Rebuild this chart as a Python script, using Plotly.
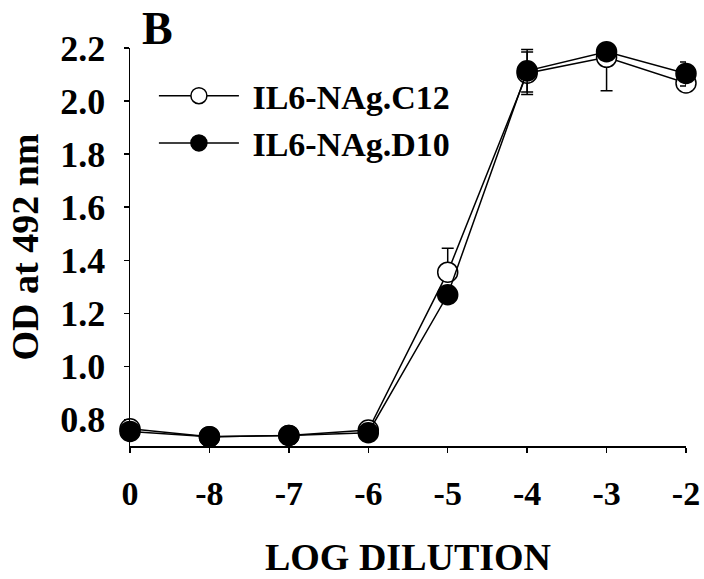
import plotly.graph_objects as go

dilutions = ["0", "-8", "-7", "-6", "-5", "-4", "-3", "-2"]
c12_od = [0.765, 0.735, 0.740, 0.760, 1.355, 2.105, 2.165, 2.068]
c12_err_plus = [0, 0, 0, 0, 0.090, 0.080, 0, 0]
c12_err_minus = [0, 0, 0, 0, 0, 0.080, 0.126, 0]
d10_od = [0.755, 0.735, 0.740, 0.750, 1.270, 2.114, 2.186, 2.104]
d10_err_plus = [0, 0, 0, 0, 0, 0.080, 0, 0.043]
d10_err_minus = [0, 0, 0, 0, 0, 0.080, 0, 0.047]
y_ticks = [0.8, 1.0, 1.2, 1.4, 1.6, 1.8, 2.0, 2.2]
series_names = ["\u00a0IL6-NAg.C12", "\u00a0IL6-NAg.D10"]

FONT = "Liberation Serif"

fig = go.Figure()
fig.add_trace(go.Scatter(
    x=dilutions, y=c12_od, name=series_names[0], mode="lines+markers",
    line=dict(color="black", width=1.5),
    marker=dict(symbol="circle", size=20, color="white", line=dict(color="black", width=1.5)),
    error_y=dict(type="data", symmetric=False, array=c12_err_plus, arrayminus=c12_err_minus,
                 color="black", thickness=1.5, width=6),
    cliponaxis=False,
))
fig.add_trace(go.Scatter(
    x=dilutions, y=d10_od, name=series_names[1], mode="lines+markers",
    line=dict(color="black", width=1.5),
    marker=dict(symbol="circle", size=20, color="black", line=dict(color="black", width=1.5)),
    error_y=dict(type="data", symmetric=False, array=d10_err_plus, arrayminus=d10_err_minus,
                 color="black", thickness=1.5, width=6),
    cliponaxis=False,
))

fig.update_layout(
    width=704, height=579,
    margin=dict(l=130, r=18, t=48, b=133, autoexpand=False),
    paper_bgcolor="white", plot_bgcolor="white",
    font=dict(family=FONT, color="black", size=34, weight="bold"),
    showlegend=True,
    legend=dict(
        x=0.043, y=0.952, xanchor="left", yanchor="top",
        bgcolor="rgba(0,0,0,0)", itemwidth=80,
        font=dict(family=FONT, size=34, weight="bold", color="black"),
        tracegroupgap=0, itemclick=False,
    ),
    xaxis=dict(
        type="category", categoryorder="array", categoryarray=dilutions,
        range=[0, 7], showgrid=False, zeroline=False, automargin=False,
        showline=True, linecolor="black", linewidth=1.5,
        ticks="outside", ticklen=5, tickwidth=1.5, tickcolor="black",
        tickfont=dict(family=FONT, size=34, weight="bold", color="black"),
        ticklabelstandoff=12,
        title=dict(text="LOG DILUTION", font=dict(family=FONT, size=38, weight="bold"), standoff=32),
    ),
    yaxis=dict(
        range=[0.7, 2.2], tickvals=y_ticks, tickformat=".1f",
        showgrid=False, zeroline=False, automargin=False,
        showline=True, linecolor="black", linewidth=1.5,
        ticks="outside", ticklen=5, tickwidth=1.5, tickcolor="black",
        tickfont=dict(family=FONT, size=36, weight="bold", color="black"),
        ticklabelstandoff=11,
        title=dict(text="OD at 492 nm", font=dict(family=FONT, size=38, weight="bold"), standoff=10),
    ),
    annotations=[dict(
        text="B", xref="paper", yref="paper", x=0.018, y=1.05, xanchor="left", yanchor="middle",
        showarrow=False, font=dict(family=FONT, size=46, weight="bold", color="black"),
    )],
)

fig.write_html(
    "out.html",
    config={"displayModeBar": False, "staticPlot": True},
    post_script="document.body.style.margin='0';document.body.style.padding='0';",
)
